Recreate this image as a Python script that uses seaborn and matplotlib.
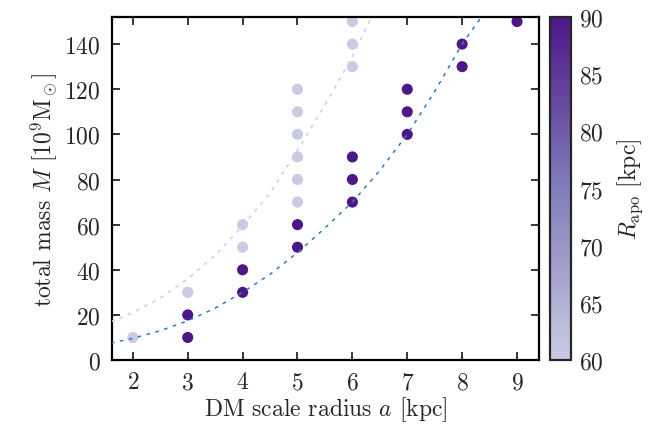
import numpy as np
import pandas as pd
import matplotlib
matplotlib.use("Agg")
import matplotlib.pyplot as plt
import matplotlib.colors as mcolors
import seaborn as sns

# ---- data ----
a_light = [2, 3, 4, 4, 5, 5, 5, 5, 5, 5, 6, 6, 6]
M_light = [10, 30, 50, 60, 70, 80, 90, 100, 110, 120, 130, 140, 150]
a_dark = [3, 3, 4, 4, 5, 5, 6, 6, 6, 7, 7, 7, 8, 8, 9]
M_dark = [10, 20, 30, 40, 50, 60, 70, 80, 90, 100, 110, 120, 130, 140, 150]
R_light = 60
R_dark = 90

# fitted curves
curve_hi_a = [1.6, 2.0, 2.5, 3.0, 3.5, 4.0, 4.5, 5.0, 5.5, 6.0, 6.35]
curve_hi_M = [17, 21, 27.5, 36, 46.5, 59.4, 74, 93, 113, 134.6, 152]
curve_lo_a = [1.6, 2.0, 2.5, 3.0, 3.5, 4.0, 4.5, 5.0, 5.5, 6.0, 6.5, 7.0, 7.5, 8.0, 8.35]
curve_lo_M = [7.5, 9.6, 13, 17.4, 23, 30, 38, 47.6, 58.5, 70, 84, 100, 119, 140, 152]

x_ticks = [2, 3, 4, 5, 6, 7, 8, 9]
y_ticks = [0, 20, 40, 60, 80, 100, 120, 140]
cb_ticks = [60, 65, 70, 75, 80, 85, 90]

df = pd.DataFrame({
    "a": a_light + a_dark,
    "M": M_light + M_dark,
    "R": [R_light] * len(a_light) + [R_dark] * len(a_dark),
})

sns.set_style("ticks")
plt.rcParams["font.family"] = ["serif"]
plt.rcParams["font.serif"] = ["cmr10", "DejaVu Serif"]
plt.rcParams["mathtext.fontset"] = "cm"
plt.rcParams["axes.unicode_minus"] = False
plt.rcParams["axes.formatter.use_mathtext"] = True

FS = 17

base = plt.get_cmap("Purples")
cmap = mcolors.LinearSegmentedColormap.from_list(
    "trunc", base(np.linspace(0.32, 0.92, 256)))
norm = mcolors.Normalize(vmin=60, vmax=90)

fig = plt.figure(figsize=(6.53, 4.35), dpi=100)
ax = fig.add_axes([0.1715, 0.170, 0.6539, 0.7886])
cax = fig.add_axes([0.8423, 0.170, 0.0322, 0.7886])

sns.scatterplot(data=df, x="a", y="M", hue="R", palette=cmap, hue_norm=norm,
                s=64, linewidth=0, legend=False, ax=ax, zorder=2)

sns.lineplot(x=curve_hi_a, y=curve_hi_M, ax=ax, color="#c3d3ea", lw=1.1,
             linestyle=(0, (2.4, 3.6)), sort=False, zorder=3)
sns.lineplot(x=curve_lo_a, y=curve_lo_M, ax=ax, color="#2f7cc4", lw=1.1,
             linestyle=(0, (2.4, 3.6)), sort=False, zorder=3)

ax.set_xlim(1.62, 9.4)
ax.set_ylim(0, 152)
ax.set_xticks(x_ticks)
ax.set_yticks(y_ticks)
ax.set_xlabel(r"DM scale radius $a$ [kpc]", fontsize=FS, labelpad=1)
ax.set_ylabel(r"total mass $M$ [$10^9\mathrm{M}_\odot$]", fontsize=FS, labelpad=4)
ax.tick_params(direction="in", top=True, right=True, length=6, width=1.3,
               labelsize=FS, pad=8)
for sp in ax.spines.values():
    sp.set_linewidth(1.6)
    sp.set_color("black")

sm = plt.cm.ScalarMappable(norm=norm, cmap=cmap)
cb = fig.colorbar(sm, cax=cax)
cb.set_ticks(cb_ticks)
cb.outline.set_linewidth(1.6)
cax.tick_params(direction="in", left=True, right=True, length=6, width=1.3,
                labelsize=FS, pad=6)
cb.set_label(r"$R_\mathrm{apo}$ [kpc]", fontsize=FS, labelpad=8)

fig.savefig("out.png", dpi=100)
